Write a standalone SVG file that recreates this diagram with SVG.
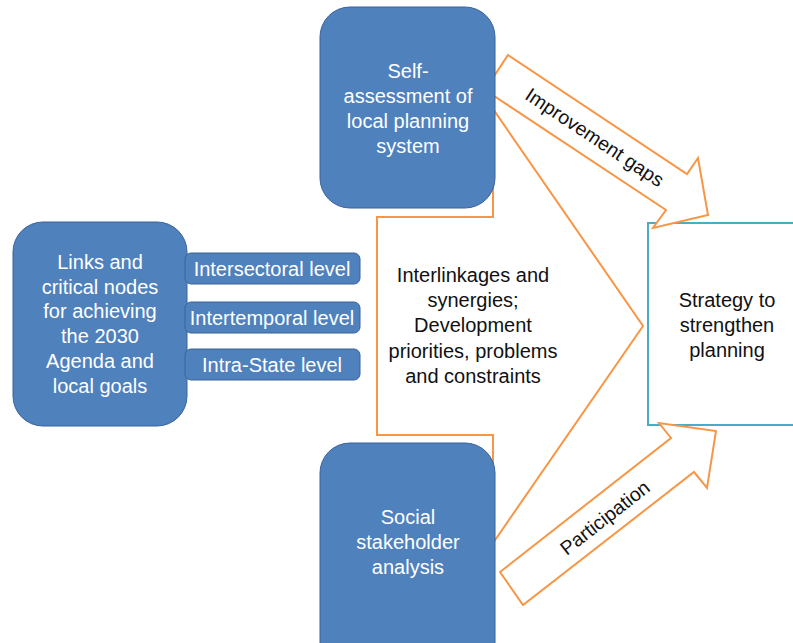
<svg xmlns="http://www.w3.org/2000/svg" width="793" height="643" viewBox="0 0 793 643">
  <style>
    .blue { fill: #4F81BD; stroke: #3B639A; stroke-width: 1; }
    .flow { fill: #FFFFFF; stroke: #F79646; stroke-width: 2; stroke-linejoin: miter; }
    .goal { fill: #FFFFFF; stroke: #4BACC6; stroke-width: 2; }
    text { font-family: "Liberation Sans", Arial, sans-serif; font-size: 20px; text-anchor: middle; }
    .w { fill: #FFFFFF; }
    .k { fill: #111111; }
    .lbl { font-size: 19.5px; }
  </style>
  <rect width="793" height="643" fill="#FFFFFF"/>

  <!-- central block arrow carrying the synthesis text -->
  <g id="synthesis">
    <polygon class="flow" points="377,217 493,217 493,109 643,326 493,543 493,435 377,435"/>
    <text class="k" x="473" y="282">Interlinkages and</text>
    <text class="k" x="473" y="307">synergies;</text>
    <text class="k" x="473" y="332">Development</text>
    <text class="k" x="473" y="358">priorities, problems</text>
    <text class="k" x="473" y="383">and constraints</text>
  </g>

  <g id="strategy">
    <rect class="goal" x="648" y="223" width="160" height="202"/>
    <text class="k" x="727" y="307">Strategy to</text>
    <text class="k" x="727" y="332">strengthen</text>
    <text class="k" x="727" y="357">planning</text>
  </g>

  <!-- labelled block arrows -->
  <g id="connectors">
    <g id="improvement-gaps">
      <polygon class="flow" points="508,55 687,174 698,158 708,215 653,228 666,210 485,90"/>
      <text class="k lbl" transform="translate(591,143) rotate(33.6)">Improvement gaps</text>
    </g>
    <g id="participation">
      <polygon class="flow" points="500,572 671,438 659,423 716,431 707,488 694,472 523,605"/>
      <text class="k lbl" transform="translate(609,523) rotate(-38)">Participation</text>
    </g>
  </g>

  <g id="self-assessment">
    <rect class="blue" x="320" y="7" width="175" height="201" rx="30" ry="30"/>
    <text class="w" x="408" y="78">Self-</text>
    <text class="w" x="408" y="103">assessment of</text>
    <text class="w" x="408" y="128">local planning</text>
    <text class="w" x="408" y="153">system</text>
  </g>

  <g id="stakeholder">
    <rect class="blue" x="320" y="443" width="175" height="230" rx="30" ry="30"/>
    <text class="w" x="408" y="524">Social</text>
    <text class="w" x="408" y="549">stakeholder</text>
    <text class="w" x="408" y="574">analysis</text>
  </g>

  <g id="links">
    <rect class="blue" x="13" y="222" width="174" height="204" rx="30" ry="30"/>
    <text class="w" x="100" y="269">Links and</text>
    <text class="w" x="100" y="294">critical nodes</text>
    <text class="w" x="100" y="318">for achieving</text>
    <text class="w" x="100" y="343">the 2030</text>
    <text class="w" x="100" y="368">Agenda and</text>
    <text class="w" x="100" y="393">local goals</text>
  </g>

  <g id="intersectoral">
    <rect class="blue" x="185" y="253" width="175" height="31" rx="6" ry="6"/>
    <text class="w" x="272" y="276">Intersectoral level</text>
  </g>
  <g id="intertemporal">
    <rect class="blue" x="185" y="302" width="175" height="31" rx="6" ry="6"/>
    <text class="w" x="272" y="325">Intertemporal level</text>
  </g>
  <g id="intra-state">
    <rect class="blue" x="185" y="349" width="175" height="31" rx="6" ry="6"/>
    <text class="w" x="272" y="372">Intra-State level</text>
  </g>
</svg>
